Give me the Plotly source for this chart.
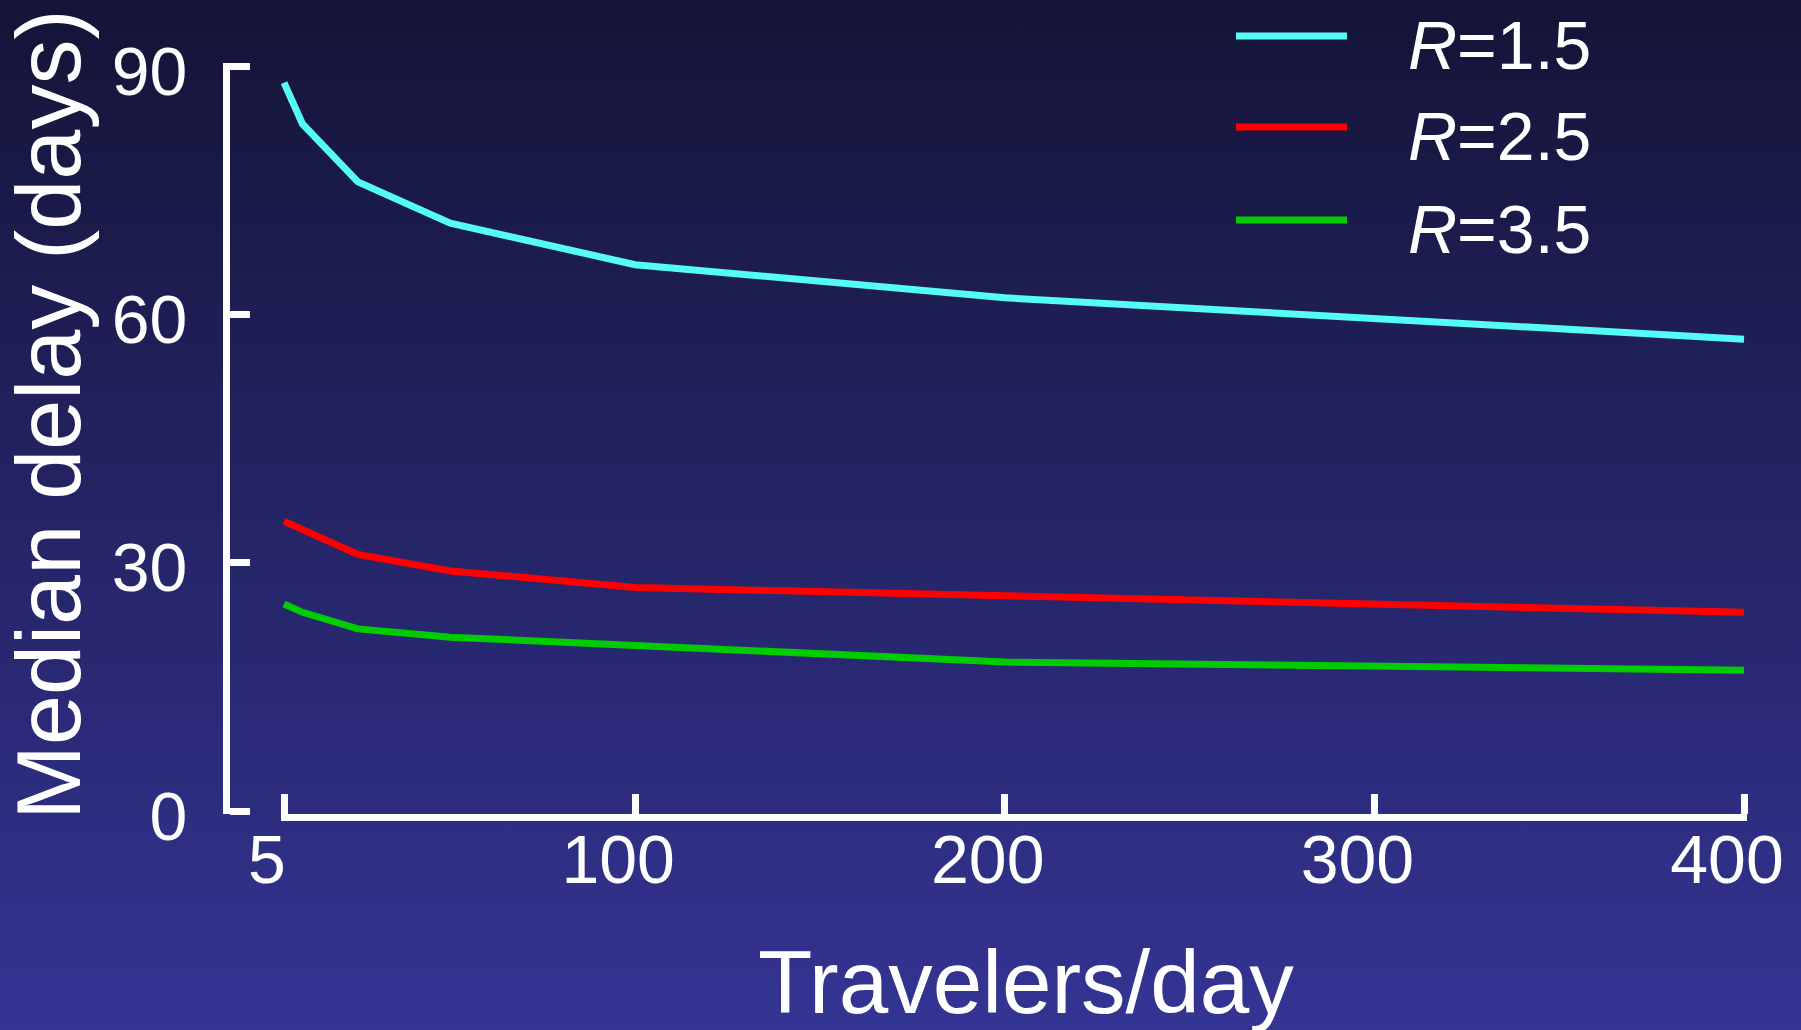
import base64
import plotly.graph_objects as go

# Median delay versus daily traveler volume for three reproduction numbers
travelers = [5, 10, 25, 50, 100, 200, 400]
delay_r15 = [88, 83, 76, 71, 66, 62, 57]
delay_r25 = [35, 34, 31, 29, 27, 26, 24]
delay_r35 = [25, 24, 22, 21, 20, 18, 17]

series_names = ["<i>R</i>=1.5", "<i>R</i>=2.5", "<i>R</i>=3.5"]
series_values = [delay_r15, delay_r25, delay_r35]
series_colors = ["#55fcf6", "#ff0000", "#00cc00"]

x_ticks = [5, 100, 200, 300, 400]
y_ticks = [0, 30, 60, 90]

W, H = 1801, 1030
FONT = "Liberation Sans, Arial, sans-serif"
WHITE = "#ffffff"

# vertical gradient backdrop (dark navy at top to indigo at bottom)
svg = (
    f'<svg xmlns="http://www.w3.org/2000/svg" width="{W}" height="{H}" '
    f'viewBox="0 0 {W} {H}" preserveAspectRatio="none">'
    '<defs><linearGradient id="g" x1="0" y1="0" x2="0" y2="1">'
    '<stop offset="0" stop-color="#141437"/>'
    '<stop offset="1" stop-color="#343494"/>'
    '</linearGradient></defs>'
    f'<rect x="0" y="0" width="{W}" height="{H}" fill="url(#g)"/></svg>'
)
bg_src = "data:image/svg+xml;base64," + base64.b64encode(svg.encode()).decode()

fig = go.Figure()
for name, vals, col in zip(series_names, series_values, series_colors):
    fig.add_trace(go.Scatter(
        x=travelers, y=vals, mode="lines", name=name,
        line=dict(color=col, width=7), showlegend=False,
    ))

# pixel helpers for the layout frame
def px_x(p):
    return p / W

def px_y(p):
    return 1 - p / H

# axis frame in pixels; a small pad keeps the end ticks from being dropped
X_LEFT, X_RIGHT = 284, 1744
Y_BOTTOM, Y_TOP = 811, 66
PAD = 3
x_lo, x_hi = x_ticks[0], x_ticks[-1]
y_lo, y_hi = y_ticks[0], y_ticks[-1]
x_unit = (X_RIGHT - X_LEFT) / (x_hi - x_lo)
y_unit = (Y_BOTTOM - Y_TOP) / (y_hi - y_lo)

fig.update_layout(
    template="none",
    width=W, height=H,
    margin=dict(l=0, r=0, t=0, b=0, pad=0, autoexpand=False),
    paper_bgcolor="#252570",
    plot_bgcolor="rgba(0,0,0,0)",
    font=dict(family=FONT, color=WHITE, size=68),
    images=[dict(source=bg_src, xref="paper", yref="paper", x=0, y=1,
                 sizex=1, sizey=1, xanchor="left", yanchor="top",
                 sizing="stretch", layer="below")],
    xaxis=dict(
        domain=[px_x(X_LEFT - PAD), px_x(X_RIGHT + PAD)],
        range=[x_lo - PAD / x_unit, x_hi + PAD / x_unit],
        anchor="y", showgrid=False, zeroline=False, automargin=False,
        showline=True, linecolor=WHITE, linewidth=7,
        ticks="inside", ticklen=20, tickwidth=7, tickcolor=WHITE,
        tickvals=x_ticks, ticktext=[str(v) for v in x_ticks],
        tickfont=dict(size=68, color=WHITE, family=FONT),
        ticklabelshift=-17, ticklabelstandoff=-20,
    ),
    yaxis=dict(
        domain=[px_y(Y_BOTTOM + PAD), px_y(Y_TOP - PAD)],
        range=[y_lo - PAD / y_unit, y_hi + PAD / y_unit],
        anchor="free", position=px_x(226), side="left",
        showgrid=False, zeroline=False, automargin=False,
        showline=True, linecolor=WHITE, linewidth=7,
        ticks="inside", ticklen=20, tickwidth=7, tickcolor=WHITE,
        tickvals=y_ticks, ticktext=[str(v) for v in y_ticks],
        tickfont=dict(size=68, color=WHITE, family=FONT),
        ticklabelshift=5, ticklabelstandoff=22,
    ),
)

# axis titles
fig.add_annotation(
    text="Median delay (days)", textangle=-90, showarrow=False,
    xref="paper", yref="paper", x=px_x(49), y=px_y(415),
    xanchor="center", yanchor="middle",
    font=dict(size=90, color=WHITE, family=FONT),
)
fig.add_annotation(
    text="Travelers/day", showarrow=False,
    xref="paper", yref="paper", x=px_x(1026), y=px_y(982),
    xanchor="center", yanchor="middle",
    font=dict(size=89, color=WHITE, family=FONT),
)

# legend drawn as line swatches with labels
legend_rows = [36, 127, 220]
for name, col, row in zip(series_names, series_colors, legend_rows):
    fig.add_shape(
        type="line", xref="paper", yref="paper",
        x0=px_x(1236), x1=px_x(1347), y0=px_y(row), y1=px_y(row),
        line=dict(color=col, width=7),
    )
    fig.add_annotation(
        text=name, showarrow=False, xref="paper", yref="paper",
        x=px_x(1406), y=px_y(row + 9), xanchor="left", yanchor="middle",
        font=dict(size=68, color=WHITE, family=FONT),
    )

fig.write_html("out.html")
